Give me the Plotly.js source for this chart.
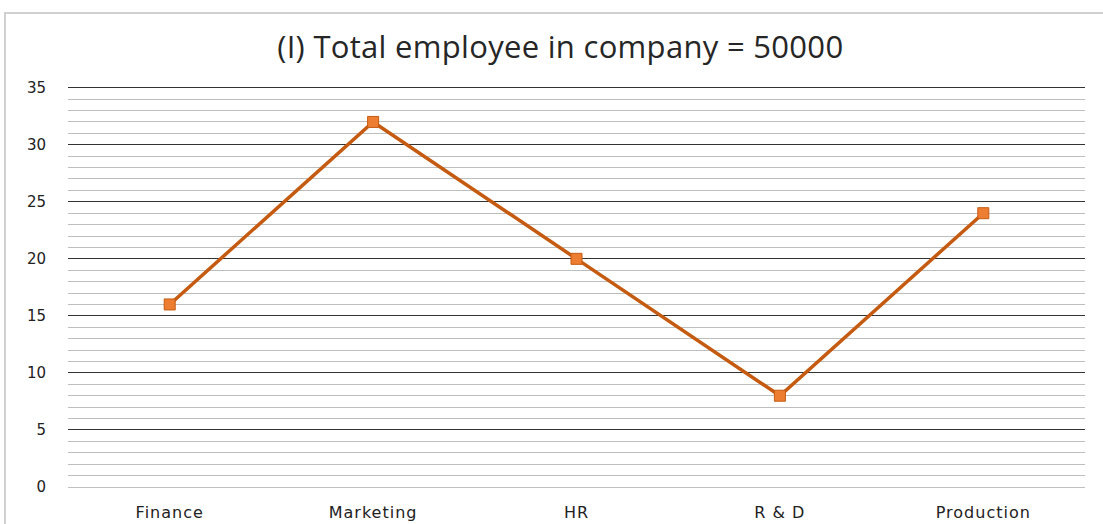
<!DOCTYPE html>
<html>
<head>
<meta charset="utf-8">
<script src="https://cdn.plot.ly/plotly-3.0.1.min.js"></script>
<style>
  html, body { margin: 0; padding: 0; background: #fff; }
  #wrap { position: relative; width: 1103px; height: 524px; overflow: hidden; }
  #frame { position: absolute; left: 4px; top: 12px; width: 1110px; height: 530px; border: 2px solid #d0d0d0; box-sizing: border-box; pointer-events: none; }
  #chart { position: absolute; left: 0; top: 0; width: 1103px; height: 524px; }
  #chart .xtick text { letter-spacing: 1px; }
  #chart .gtitle { letter-spacing: 0.3px; }
</style>
</head>
<body>
<div id="wrap">
  <div id="chart"></div>
  <div id="frame"></div>
</div>
<script>
const categories = ["Finance", "Marketing", "HR", "R & D", "Production"];
const values = [16, 32, 20, 8, 24];
const yTicks = [0, 5, 10, 15, 20, 25, 30, 35];
const chartTitle = "(I) Total employee in company = 50000";

const trace = {
  type: "scatter",
  mode: "lines+markers",
  x: categories,
  y: values,
  line: { color: "#C55A11", width: 3.5 },
  marker: { symbol: "square", size: 11, color: "#ED7D31", line: { color: "#C55A11", width: 1 } },
  cliponaxis: false,
  hoverinfo: "skip"
};

const layout = {
  width: 1103,
  height: 524,
  margin: { l: 68, r: 18, t: 82, b: 37 },
  paper_bgcolor: "rgba(0,0,0,0)",
  plot_bgcolor: "#fff",
  showlegend: false,
  title: {
    text: chartTitle,
    font: { family: "Open Sans, sans-serif", size: 31, color: "#262626" },
    x: 0.508, xanchor: "center",
    y: 1 - 47 / 524, yanchor: "middle", yref: "container"
  },
  xaxis: {
    type: "category",
    range: [-0.5, 4.5],
    showgrid: false,
    zeroline: false,
    showline: false,
    ticks: "",
    tickfont: { family: "DejaVu Sans, sans-serif", size: 16, color: "#222" },
    ticklabelstandoff: 14
  },
  yaxis: {
    range: [0, 35.5],
    tickvals: yTicks,
    ticktext: yTicks.map(String),
    showgrid: true,
    gridcolor: "#333333",
    gridwidth: 1,
    zeroline: true,
    zerolinecolor: "#c0c0c0",
    zerolinewidth: 1,
    showline: false,
    ticks: "",
    ticklabelstandoff: 21,
    tickfont: { family: "DejaVu Sans, sans-serif", size: 15, color: "#222" },
    minor: { dtick: 1, showgrid: true, gridcolor: "#bdbdbd", gridwidth: 1 }
  }
};

Plotly.newPlot("chart", [trace], layout, { staticPlot: true, displayModeBar: false });
</script>
</body>
</html>
